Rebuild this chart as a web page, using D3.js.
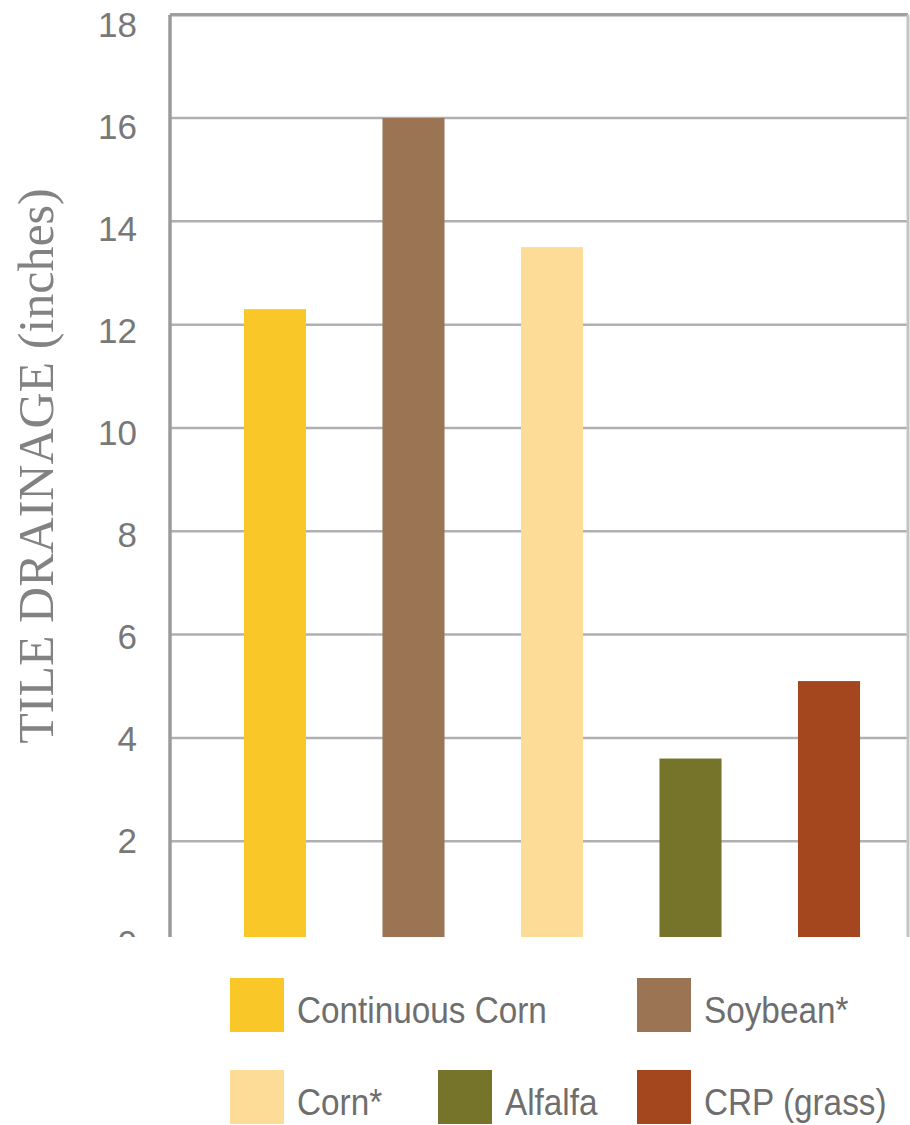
<!DOCTYPE html>
<html>
<head>
<meta charset="utf-8">
<script src="https://cdn.jsdelivr.net/npm/d3@7"></script>
<style>
  html, body { margin: 0; padding: 0; background: #fff; }
  svg { display: block; }
</style>
</head>
<body>
<div id="chart"></div>
<script>
// Tile drainage by crop system
const categories = ["Continuous Corn", "Soybean*", "Corn*", "Alfalfa", "CRP (grass)"];
const drainage   = [12.3, 16.0, 13.5, 3.6, 5.1];
const colors     = ["#F9C828", "#9B7553", "#FCDC97", "#76732B", "#A4471F"];
const yTicks     = [0, 2, 4, 6, 8, 10, 12, 14, 16, 18];
const yTitle     = "TILE DRAINAGE (inches)";

// legend rows: [category index, swatch x]
const legendRows = [
  [[0, 230], [1, 637]],
  [[2, 230], [3, 438], [4, 637]]
];

const W = 910, H = 1125;
const plotLeft = 170, plotRight = 908, plotTop = 14.7, zeroY = 944.5, clipBottom = 937;

const svg = d3.select("#chart").append("svg")
  .attr("width", W).attr("height", H);

const y = d3.scaleLinear().domain([0, 18]).range([zeroY, plotTop]);
// tick labels sit on a slightly tighter spacing than the gridlines
const yLabel = d3.scaleLinear().domain([2, 18]).range([840, 24]);
const x = d3.scaleBand().domain(categories)
  .range([170, 934]).paddingInner(0.552).paddingOuter(0.534);

svg.append("clipPath").attr("id", "plotclip")
  .append("rect").attr("x", 0).attr("y", 0).attr("width", W).attr("height", clipBottom);

const plot = svg.append("g").attr("clip-path", "url(#plotclip)");

// horizontal gridlines
plot.append("g").selectAll("line")
  .data(yTicks.filter(d => d > 0 && d < 18))
  .join("line")
  .attr("x1", plotLeft).attr("x2", plotRight)
  .attr("y1", d => y(d)).attr("y2", d => y(d))
  .attr("stroke", "#b0b0b0").attr("stroke-width", 2.5);

// frame: top and right edges
plot.append("line")
  .attr("x1", plotLeft).attr("x2", plotRight)
  .attr("y1", y(18)).attr("y2", y(18))
  .attr("stroke", "#a0a0a0").attr("stroke-width", 3.5);
plot.append("line")
  .attr("x1", plotRight).attr("x2", plotRight)
  .attr("y1", y(18)).attr("y2", zeroY)
  .attr("stroke", "#c4c4c4").attr("stroke-width", 3);

// bars
plot.append("g").selectAll("rect")
  .data(categories)
  .join("rect")
  .attr("x", d => x(d))
  .attr("width", x.bandwidth())
  .attr("y", (d, i) => y(drainage[i]))
  .attr("height", (d, i) => y(0) - y(drainage[i]))
  .attr("fill", (d, i) => colors[i]);

// y axis
const yAxis = d3.axisLeft(y).tickValues(yTicks).tickSize(0).tickPadding(33);
const ax = plot.append("g").attr("transform", `translate(${plotLeft},0)`).call(yAxis);
ax.select(".domain").attr("stroke", "#9a9a9a").attr("stroke-width", 3.5);
ax.selectAll(".tick")
  .attr("transform", d => `translate(0,${yLabel(d)})`);
ax.selectAll("text")
  .attr("font-family", "'Liberation Sans', Arial, sans-serif")
  .attr("font-size", 35)
  .attr("fill", "#787878")
  .attr("dy", "0.36em");
// keep the axis line on the value scale even though labels are shifted
ax.select(".domain").attr("d", `M0,${y(18)}V${zeroY}`);

// y title
svg.append("text")
  .attr("transform", "translate(53,466) rotate(-90)")
  .attr("text-anchor", "middle")
  .attr("font-family", "'Liberation Serif', 'Times New Roman', serif")
  .attr("font-size", 50)
  .attr("fill", "#828282")
  .text(yTitle);

// legend
const legendY = [978, 1070];
legendRows.forEach((row, r) => {
  const g = svg.append("g");
  row.forEach(([idx, sx]) => {
    g.append("rect")
      .attr("x", sx).attr("y", legendY[r])
      .attr("width", 54).attr("height", 54)
      .attr("fill", colors[idx]);
    g.append("text")
      .attr("transform", `translate(${sx + 67},${legendY[r] + 45}) scale(0.9,1)`)
      .attr("font-family", "'Liberation Sans', Arial, sans-serif")
      .attr("font-size", 37)
      .attr("fill", "#6e6e6e")
      .text(categories[idx]);
  });
});
</script>
</body>
</html>
